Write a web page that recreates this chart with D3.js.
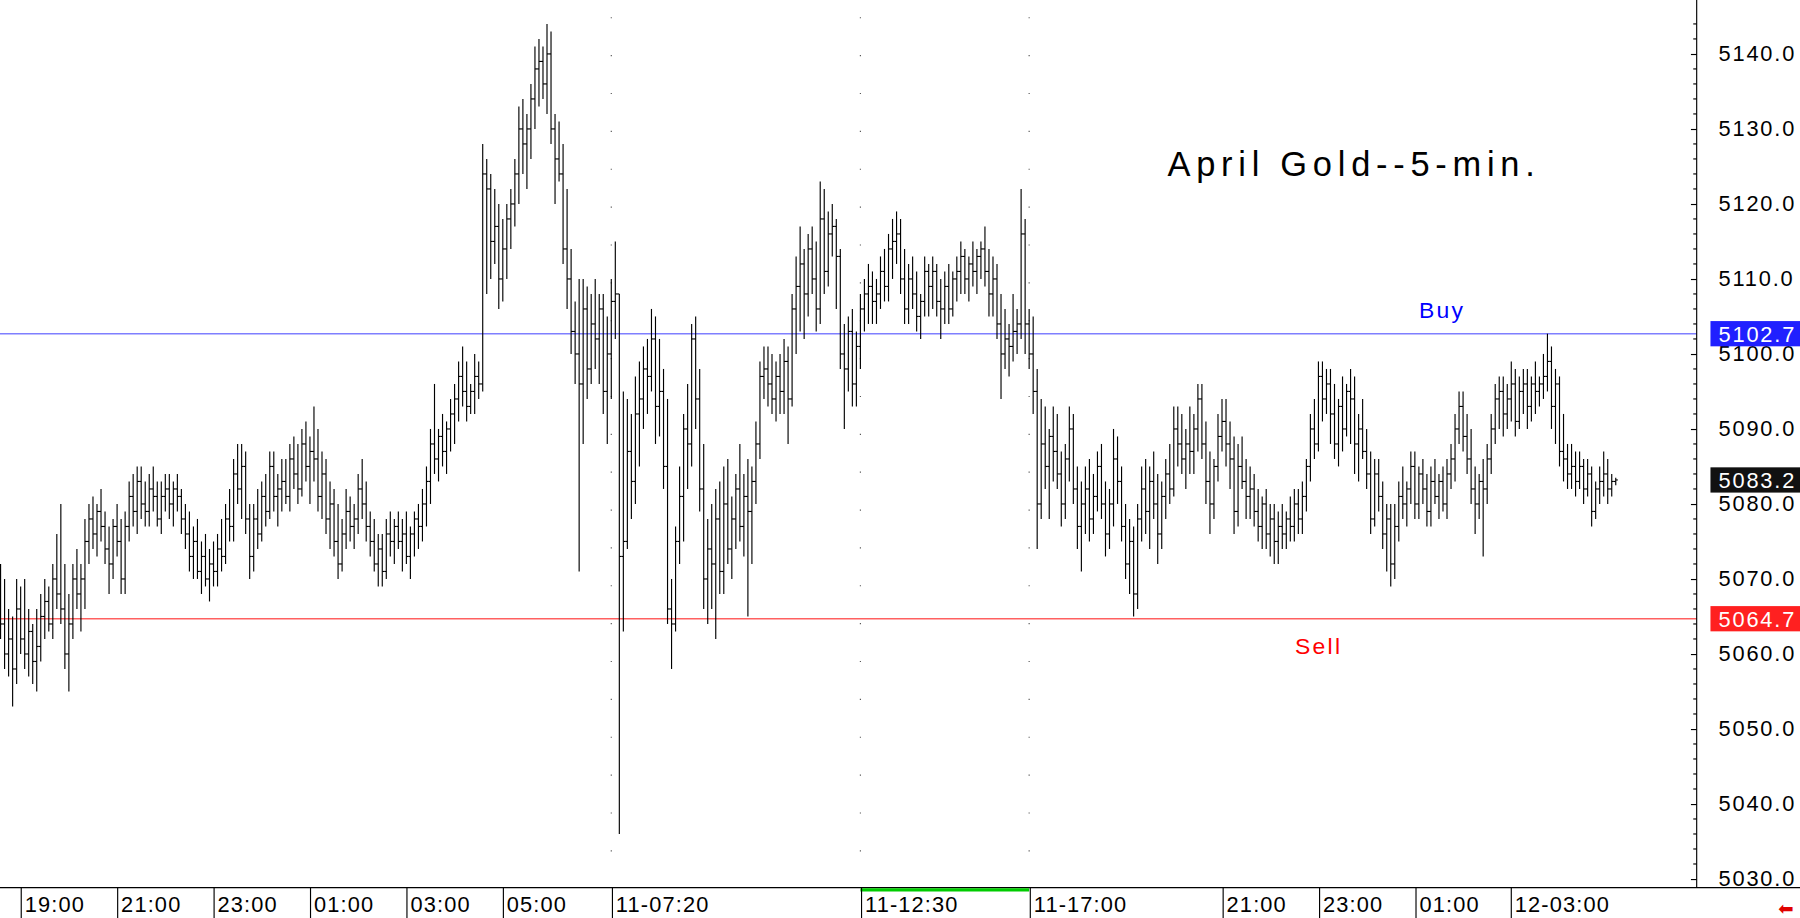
<!DOCTYPE html>
<html><head><meta charset="utf-8">
<script src="https://cdn.jsdelivr.net/npm/d3@7/dist/d3.min.js"></script>
<style>html,body{margin:0;padding:0;background:#fff;overflow:hidden}</style>
</head><body>
<svg id="c" width="1800" height="918" viewBox="0 0 1568 800" preserveAspectRatio="none"></svg>
<script>
const highs=[5072,5070,5066,5065,5070,5069,5070,5066,5064,5066,5068,5070,5069,5072,5076,5080,5072,5068,5072,5074,
5072,5078,5080,5081,5080,5082,5079,5077,5078,5080,5078,5079,5083,5084,5085,5085,5083,5084,5085,5083,
5083,5084,5084,5083,5084,5082,5080,5079,5077,5078,5075,5076,5074,5075,5076,5078,5080,5082,5086,5088,
5088,5087,5080,5080,5082,5083,5084,5087,5087,5084,5086,5086,5088,5089,5088,5090,5091,5089,5093,5090,
5087,5086,5083,5082,5080,5078,5082,5081,5080,5084,5086,5083,5079,5078,5076,5076,5078,5079,5078,5079,
5078,5079,5077,5079,5080,5082,5085,5090,5096,5090,5092,5091,5094,5096,5099,5101,5099,5096,5100,5099,
5128,5126,5124,5122,5120,5118,5120,5122,5126,5133,5134,5132,5136,5141,5142,5141,5144,5143,5132,5131,
5128,5122,5114,5107,5110,5110,5109,5108,5110,5108,5108,5105,5110,5115,5108,5095,5094,5092,5097,5099,
5101,5102,5106,5105,5102,5098,5094,5070,5077,5085,5092,5096,5104,5105,5098,5088,5078,5080,5082,5083,
5085,5086,5081,5084,5088,5084,5086,5085,5091,5099,5101,5101,5100,5099,5100,5102,5101,5108,5113,5117,
5114,5116,5117,5115,5123,5122,5119,5120,5118,5114,5104,5105,5106,5103,5108,5110,5112,5111,5110,5113,
5114,5116,5118,5119,5118,5114,5112,5113,5111,5108,5113,5112,5113,5112,5110,5111,5112,5111,5113,5115,
5114,5113,5115,5114,5115,5117,5114,5113,5112,5108,5106,5104,5108,5106,5122,5118,5106,5105,5098,5094,
5093,5090,5093,5092,5087,5088,5093,5092,5085,5083,5085,5086,5084,5087,5088,5083,5082,5090,5089,5085,
5080,5078,5077,5080,5085,5086,5085,5087,5084,5083,5086,5088,5093,5093,5092,5090,5093,5092,5096,5096,
5091,5087,5086,5092,5094,5094,5091,5089,5088,5089,5086,5085,5084,5082,5081,5082,5080,5080,5079,5080,
5079,5081,5082,5082,5083,5086,5092,5094,5099,5099,5098,5098,5096,5094,5097,5096,5098,5097,5092,5094,
5090,5087,5086,5086,5083,5080,5080,5080,5083,5085,5083,5087,5087,5085,5086,5084,5085,5086,5084,5085,
5086,5088,5092,5095,5095,5092,5090,5085,5084,5086,5088,5092,5096,5097,5097,5096,5099,5098,5097,5098,
5098,5097,5099,5097,5100,5102.7,5101,5098,5097,5092,5088,5088,5087,5087,5086,5086,5085,5083,5085,5087,5086,5084,5083.5];
const lows=[5062,5058,5057,5053,5056,5060,5058,5057,5056,5055,5059,5062,5063,5062,5066,5064,5058,5055,5062,5066,
5063,5066,5072,5074,5073,5075,5072,5068,5070,5073,5068,5068,5075,5077,5076,5078,5077,5077,5079,5077,
5076,5079,5078,5077,5079,5076,5074,5071,5070,5070,5068,5069,5067,5069,5069,5071,5072,5075,5075,5080,
5078,5076,5070,5071,5074,5075,5077,5078,5079,5077,5079,5080,5079,5082,5080,5081,5083,5080,5083,5079,
5078,5076,5074,5073,5070,5071,5074,5075,5074,5076,5078,5075,5073,5071,5069,5069,5070,5073,5072,5074,
5071,5072,5070,5073,5074,5075,5077,5080,5084,5083,5085,5084,5087,5088,5091,5093,5091,5092,5092,5094,
5095,5108,5110,5112,5106,5107,5110,5114,5117,5120,5124,5122,5126,5130,5133,5134,5132,5128,5120,5123,
5112,5106,5100,5096,5071,5088,5094,5096,5098,5096,5092,5088,5094,5102,5036,5063,5074,5078,5080,5085,
5090,5092,5095,5088,5089,5082,5064,5058,5063,5072,5075,5082,5085,5090,5079,5066,5064,5066,5062,5068,
5068,5072,5070,5074,5075,5073,5065,5072,5080,5086,5094,5093,5092,5091,5092,5092,5088,5093,5100,5103,
5102,5105,5108,5103,5104,5108,5109,5113,5106,5098,5090,5095,5093,5093,5098,5103,5104,5104,5104,5106,
5107,5107,5110,5112,5108,5104,5104,5106,5103,5102,5105,5105,5106,5105,5102,5104,5104,5105,5107,5108,
5108,5107,5109,5108,5110,5109,5105,5105,5102,5094,5098,5097,5099,5100,5102,5100,5098,5092,5074,5078,
5082,5078,5083,5082,5077,5078,5083,5080,5074,5071,5076,5075,5076,5079,5078,5073,5074,5077,5080,5075,
5070,5068,5065,5066,5075,5076,5074,5078,5072,5074,5078,5080,5081,5085,5084,5082,5084,5084,5087,5086,
5080,5076,5078,5083,5087,5085,5082,5076,5077,5082,5078,5078,5077,5075,5074,5074,5073,5072,5072,5074,
5074,5075,5075,5076,5076,5079,5083,5086,5087,5091,5092,5088,5086,5085,5087,5089,5088,5084,5083,5086,
5082,5076,5077,5079,5074,5071,5069,5070,5075,5078,5077,5080,5078,5078,5080,5077,5077,5080,5078,5079,
5078,5082,5083,5088,5087,5084,5080,5076,5078,5073,5080,5084,5088,5090,5089,5090,5091,5089,5090,5092,
5090,5091,5092,5093,5094,5095,5090,5088,5085,5083,5082,5082,5081,5082,5080,5081,5077,5078,5080,5081,5080,5081,5082.5];
const closes=[5064,5060,5062,5058,5066,5062,5060,5063,5059,5061,5065,5067,5064,5070,5068,5066,5060,5064,5070,5068,
5070,5075,5078,5076,5079,5077,5074,5072,5077,5075,5070,5077,5081,5079,5083,5080,5079,5082,5081,5078,
5081,5082,5080,5082,5081,5078,5076,5073,5075,5071,5073,5070,5072,5071,5074,5073,5078,5077,5084,5082,
5085,5078,5073,5078,5076,5081,5079,5085,5081,5082,5083,5081,5086,5084,5082,5088,5085,5087,5086,5081,
5084,5078,5080,5075,5072,5076,5079,5077,5078,5082,5080,5077,5075,5072,5074,5071,5076,5075,5077,5075,
5076,5073,5076,5078,5077,5080,5083,5088,5086,5089,5087,5090,5092,5094,5097,5095,5093,5095,5097,5096,
5124,5122,5115,5117,5110,5114,5118,5120,5124,5130,5128,5130,5134,5138,5139,5136,5140,5130,5126,5124,
5114,5110,5103,5100,5096,5106,5098,5104,5102,5106,5095,5100,5107,5108,5073,5075,5087,5083,5092,5094,
5098,5097,5102,5093,5095,5085,5066,5064,5075,5081,5090,5088,5102,5094,5082,5070,5074,5072,5078,5071,
5080,5074,5078,5082,5077,5081,5079,5083,5088,5097,5098,5096,5094,5097,5095,5099,5094,5106,5109,5112,
5108,5114,5110,5106,5118,5111,5116,5117,5113,5100,5098,5103,5096,5101,5106,5108,5109,5107,5108,5111,
5109,5114,5115,5116,5110,5106,5110,5108,5105,5107,5111,5109,5111,5107,5106,5109,5106,5110,5111,5113,
5110,5112,5111,5113,5114,5111,5108,5110,5104,5100,5102,5101,5103,5104,5116,5104,5100,5095,5080,5088,
5085,5089,5087,5084,5080,5086,5090,5082,5077,5080,5082,5078,5081,5085,5080,5076,5080,5086,5083,5077,
5072,5075,5068,5078,5082,5079,5083,5080,5076,5081,5084,5082,5090,5088,5086,5088,5087,5090,5094,5088,
5083,5080,5085,5089,5091,5088,5086,5079,5085,5083,5081,5082,5079,5077,5080,5076,5078,5075,5077,5076,
5078,5077,5080,5078,5081,5085,5090,5088,5097,5094,5096,5092,5088,5093,5090,5095,5094,5088,5090,5087,
5084,5078,5084,5081,5076,5078,5072,5077,5081,5080,5082,5085,5080,5084,5082,5079,5083,5081,5083,5080,
5084,5086,5090,5093,5089,5086,5082,5080,5083,5082,5086,5090,5094,5095,5092,5094,5096,5091,5095,5096,
5093,5096,5095,5096,5097,5099,5093,5096,5087,5086,5084,5085,5083,5085,5082,5084,5079,5082,5083,5084,5082,5083,5083.2];
const opens=[5068,5064,5060,5062,5058,5066,5062,5060,5063,5059,5061,5065,5067,5064,5070,5068,5066,5060,5064,5070,
5068,5070,5075,5078,5076,5079,5077,5074,5072,5077,5075,5070,5077,5081,5079,5083,5080,5079,5082,5081,
5078,5081,5082,5080,5082,5081,5078,5076,5073,5075,5071,5073,5070,5072,5071,5074,5073,5078,5077,5084,
5082,5085,5078,5073,5078,5076,5081,5079,5085,5081,5082,5083,5081,5086,5084,5082,5088,5085,5087,5086,
5081,5084,5078,5080,5075,5072,5076,5079,5077,5078,5082,5080,5077,5075,5072,5074,5071,5076,5075,5077,
5075,5076,5073,5076,5078,5077,5080,5083,5088,5086,5089,5087,5090,5092,5094,5097,5095,5093,5095,5097,
5096,5124,5122,5115,5117,5110,5114,5118,5120,5124,5130,5128,5130,5134,5138,5139,5136,5140,5130,5126,
5124,5114,5110,5103,5100,5096,5106,5098,5104,5102,5106,5095,5100,5107,5108,5073,5075,5087,5083,5092,
5094,5098,5097,5102,5093,5095,5085,5066,5064,5075,5081,5090,5088,5102,5094,5082,5070,5074,5072,5078,
5071,5080,5074,5078,5082,5077,5081,5079,5083,5088,5097,5098,5096,5094,5097,5095,5099,5094,5106,5109,
5112,5108,5114,5110,5106,5118,5111,5116,5117,5113,5100,5098,5103,5096,5101,5106,5108,5109,5107,5108,
5111,5109,5114,5115,5116,5110,5106,5110,5108,5105,5107,5111,5109,5111,5107,5106,5109,5106,5110,5111,
5113,5110,5112,5111,5113,5114,5111,5108,5110,5104,5100,5102,5101,5103,5104,5116,5104,5100,5095,5080,
5088,5085,5089,5087,5084,5080,5086,5090,5082,5077,5080,5082,5078,5081,5085,5080,5076,5080,5086,5083,
5077,5072,5075,5068,5078,5082,5079,5083,5080,5076,5081,5084,5082,5090,5088,5086,5088,5087,5090,5094,
5088,5083,5080,5085,5089,5091,5088,5086,5079,5085,5083,5081,5082,5079,5077,5080,5076,5078,5075,5077,
5076,5078,5077,5080,5078,5081,5085,5090,5088,5097,5094,5096,5092,5088,5093,5090,5095,5094,5088,5090,
5087,5084,5078,5084,5081,5076,5078,5072,5077,5081,5080,5082,5085,5080,5084,5082,5079,5083,5081,5083,
5080,5084,5086,5090,5093,5089,5086,5082,5080,5083,5082,5086,5090,5094,5095,5092,5094,5096,5091,5095,
5096,5093,5096,5095,5096,5097,5099,5093,5096,5087,5086,5084,5085,5083,5085,5082,5084,5079,5082,5083,5084,5082,5083];
const yTicks=[5030,5040,5050,5060,5070,5080,5090,5100,5110,5120,5130,5140];
const timeLabels=["19:00","21:00","23:00","01:00","03:00","05:00","11-07:20","11-12:30","11-17:00","21:00","23:00","01:00","12-03:00"];
const timeIdx=[5,29,53,77,101,125,152,214,256,304,328,352,376];
const sessionIdx=[152,214,256];
const buyLevel=5102.7, sellLevel=5064.7, lastPrice=5083.2;
const title="April Gold--5-min.";

const svg=d3.select("#c");
const W=1568,H=800,axisX=1478,plotBottom=773;
const n=closes.length;
const x=d3.scaleLinear().domain([0,n-1]).range([0.5,0.5+3.5*(n-1)]);
const y=d3.scaleLinear().domain([5030,5140]).range([766,47]);
const F="'Liberation Sans Narrow','Liberation Sans',Arial,sans-serif";

sessionIdx.forEach(i=>{
  const xx=Math.round(x(i))-0.5;
  svg.append("line").attr("x1",xx).attr("x2",xx).attr("y1",15).attr("y2",plotBottom)
    .attr("stroke","#555").attr("stroke-width",1).attr("stroke-dasharray","1,32");
});
svg.append("line").attr("x1",0).attr("x2",axisX).attr("y1",y(buyLevel)).attr("y2",y(buyLevel)).attr("stroke","#7f7fff").attr("stroke-width",1.2);
svg.append("line").attr("x1",0).attr("x2",axisX).attr("y1",y(sellLevel)).attr("y2",y(sellLevel)).attr("stroke","#ff6060").attr("stroke-width",1.2);

const g=svg.append("g").attr("stroke","#000").attr("stroke-width",1).attr("fill","none");
d3.range(n).forEach(i=>{
  const xx=x(i);
  g.append("line").attr("x1",xx).attr("x2",xx).attr("y1",y(highs[i])).attr("y2",y(lows[i]));
  g.append("line").attr("x1",xx-1.8).attr("x2",xx).attr("y1",y(opens[i])).attr("y2",y(opens[i]));
  g.append("line").attr("x1",xx).attr("x2",xx+1.8).attr("y1",y(closes[i])).attr("y2",y(closes[i]));
});

svg.append("line").attr("x1",axisX).attr("x2",axisX).attr("y1",0).attr("y2",plotBottom).attr("stroke","#000");
const ax=svg.append("g").attr("transform",`translate(${axisX},0)`)
  .call(d3.axisLeft(y).tickValues(yTicks).tickSize(5).tickFormat(""));
ax.select(".domain").remove();
svg.selectAll(".yl").data(yTicks).enter().append("text").attr("x",axisX+19).attr("y",d=>y(d)+6)
  .attr("font-family",F).attr("font-size",19).attr("letter-spacing",1.6).attr("fill","#000").text(d3.format(".1f"));
const minor=d3.range(5030,5146,2).filter(v=>v%10!==0);
svg.selectAll(".mt").data(minor).enter().append("line").attr("x1",axisX-3).attr("x2",axisX)
  .attr("y1",d=>y(d)).attr("y2",d=>y(d)).attr("stroke","#000");

function box(v,fill){
  const yy=y(v);
  svg.append("rect").attr("x",axisX+12).attr("y",yy-11).attr("width",W-axisX-12).attr("height",22).attr("fill",fill);
  svg.append("text").attr("x",axisX+19).attr("y",yy+7).attr("fill","#fff").attr("font-family",F).attr("font-size",19).attr("letter-spacing",1.6).text(d3.format(".1f")(v));
}
box(buyLevel,"#2020ff");box(sellLevel,"#ff2020");box(lastPrice,"#111");

svg.append("line").attr("x1",0).attr("x2",W).attr("y1",plotBottom+0.5).attr("y2",plotBottom+0.5).attr("stroke","#000");
svg.append("line").attr("x1",x(214)).attr("x2",x(256)).attr("y1",plotBottom+2.5).attr("y2",plotBottom+2.5).attr("stroke","#00cc00").attr("stroke-width",3);
timeIdx.forEach((i,k)=>{
  const xx=Math.round(x(i))+0.5;
  svg.append("line").attr("x1",xx).attr("x2",xx).attr("y1",plotBottom).attr("y2",H).attr("stroke","#000");
  svg.append("text").attr("x",xx+3).attr("y",795).attr("font-family",F).attr("font-size",19).attr("letter-spacing",1).attr("fill","#000").text(timeLabels[k]);
});
svg.append("text").attr("x",1549).attr("y",797).attr("fill","#e00000").attr("font-size",16).attr("font-family","DejaVu Sans").text("⬅");

svg.append("text").attr("x",1017).attr("y",153).attr("font-family",F).attr("font-size",30).attr("letter-spacing",5).attr("fill","#000").text(title);
svg.append("text").attr("x",1236).attr("y",277).attr("font-family",F).attr("font-size",20).attr("letter-spacing",2).attr("fill","#0000ff").text("Buy");
svg.append("text").attr("x",1128).attr("y",570).attr("font-family",F).attr("font-size",20).attr("letter-spacing",2).attr("fill","#ff0000").text("Sell");
</script>
</body></html>
